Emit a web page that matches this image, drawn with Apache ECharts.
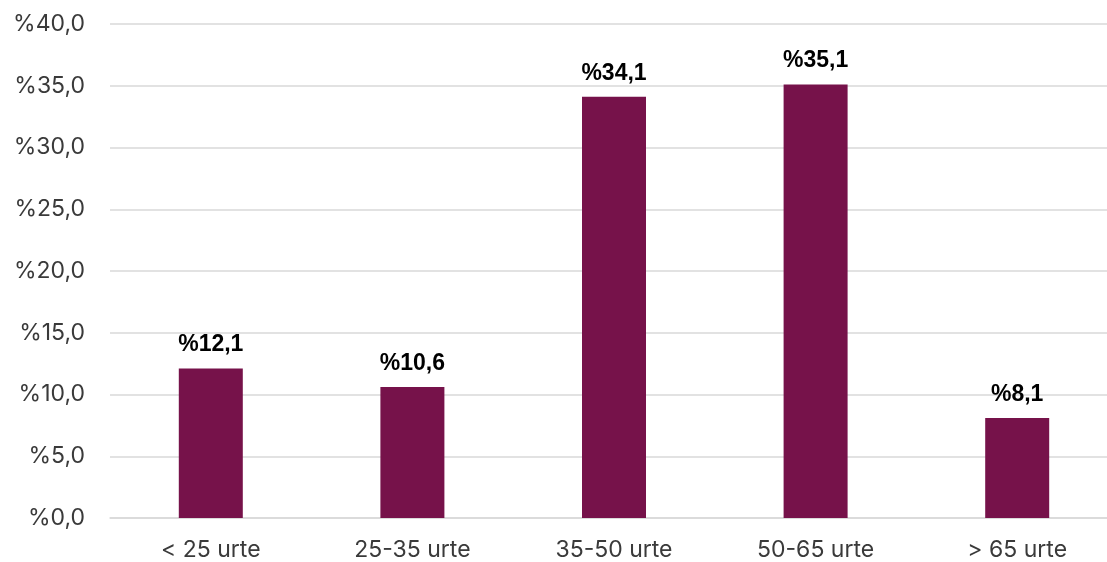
<!DOCTYPE html>
<html><head><meta charset="utf-8">
<script src="https://cdn.jsdelivr.net/npm/echarts@6/dist/echarts.min.js"></script>
<style>html,body{margin:0;padding:0;background:#fff;overflow:hidden;width:1107px;height:562px}#c{width:1118px;height:562px}</style>
</head><body><div id="c"></div>
<script>
const categories = ['< 25 urte', '25-35 urte', '35-50 urte', '50-65 urte', '> 65 urte'];
const values = [12.1, 10.6, 34.1, 35.1, 8.1];
const fmt = v => '%' + Number(v).toFixed(1).replace('.', ',');
const chart = echarts.init(document.getElementById('c'), null, {renderer: 'canvas'});
chart.setOption({
  animation: false,
  backgroundColor: '#fff',
  grid: {left: 110, top: 24, right: 0, bottom: 44, containLabel: false},
  xAxis: {
    type: 'category', data: categories,
    axisLine: {show: true, lineStyle: {color: '#d9d9d9', width: 1.5}},
    axisTick: {show: false},
    axisLabel: {color: '#3a3a3a', fontSize: 23, fontFamily: 'Inter', margin: 21}
  },
  yAxis: {
    type: 'value', min: 0, max: 40, interval: 5,
    axisLine: {show: false}, axisTick: {show: false},
    splitLine: {lineStyle: {color: '#d9d9d9', width: 1.5}},
    axisLabel: {color: '#3a3a3a', fontSize: 23, fontFamily: 'Inter', margin: 25, formatter: fmt}
  },
  series: [{
    type: 'bar', data: values, barWidth: 64,
    itemStyle: {color: '#76124A'},
    label: {show: true, position: 'top', distance: 12, color: '#000', fontSize: 23, fontWeight: 'bold',
      fontFamily: 'Liberation Sans, Arial', formatter: p => fmt(p.value)}
  }]
});
</script></body></html>
